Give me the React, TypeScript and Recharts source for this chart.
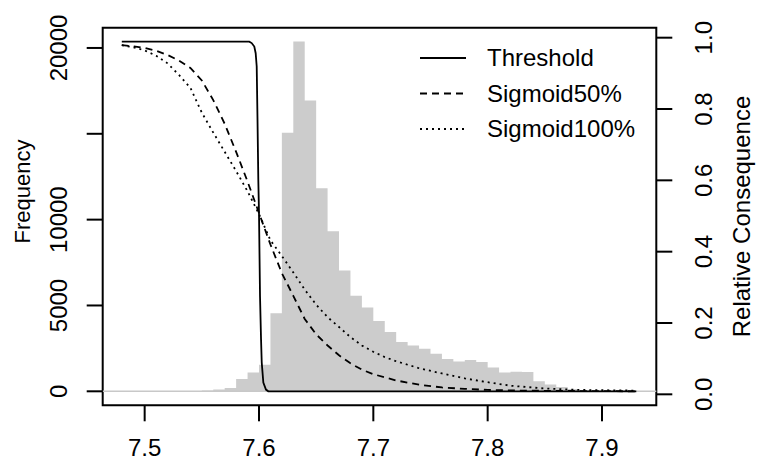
import React from "react"
import {
  Area,
  ComposedChart,
  Legend,
  Line,
  ReferenceArea,
  ReferenceLine,
  XAxis,
  YAxis,
} from "recharts"

const FONT = "'Liberation Sans', Arial, Helvetica, sans-serif"

// histogram: bin edges (width 0.01) and counts per bin
const binEdges = [
  7.53, 7.54, 7.55, 7.56, 7.57, 7.58, 7.59, 7.6, 7.61, 7.62, 7.63, 7.64, 7.65,
  7.66, 7.67, 7.68, 7.69, 7.7, 7.71, 7.72, 7.73, 7.74, 7.75, 7.76, 7.77, 7.78,
  7.79, 7.8, 7.81, 7.82, 7.83, 7.84, 7.85, 7.86, 7.87, 7.88, 7.89, 7.9, 7.91,
]
const binCounts = [
  10, 20, 40, 100, 200, 720, 1100, 1550, 4550, 15060, 20370, 16940, 11830, 9320,
  7030, 5570, 4880, 4100, 3450, 2870, 2670, 2480, 2190, 1880, 1740, 1820, 1710,
  1390, 1100, 1140, 1130, 580, 390, 255, 140, 70, 30, 10,
]

// consequence curves (0..1)
const thresholdX = [
  7.48, 7.5915, 7.5936, 7.5959, 7.5971, 7.598, 7.5987, 7.5994, 7.6, 7.6009,
  7.6018, 7.6024, 7.6038, 7.6061, 7.6081, 7.93,
]
const thresholdY = [
  1.0, 1.0, 0.996, 0.986, 0.967, 0.929, 0.777, 0.605, 0.511, 0.271, 0.148,
  0.082, 0.025, 0.005, 0, 0,
]

const sig50X = [
  7.48, 7.49, 7.5, 7.51, 7.52, 7.53, 7.54, 7.55, 7.56, 7.57, 7.58, 7.59, 7.6,
  7.61, 7.62, 7.63, 7.64, 7.65, 7.66, 7.67, 7.68, 7.69, 7.7, 7.72, 7.74, 7.76,
  7.78, 7.8, 7.83, 7.87, 7.93,
]
const sig50Y = [
  0.99, 0.987, 0.982, 0.974, 0.962, 0.946, 0.925, 0.889, 0.833, 0.765, 0.685,
  0.6, 0.51, 0.42, 0.338, 0.273, 0.207, 0.163, 0.131, 0.103, 0.08, 0.062, 0.049,
  0.031, 0.019, 0.011, 0.007, 0.004, 0.002, 0.001, 0,
]

const sig100X = [
  7.48, 7.49, 7.5, 7.51, 7.52, 7.53, 7.54, 7.55, 7.56, 7.57, 7.58, 7.59, 7.6,
  7.61, 7.62, 7.63, 7.64, 7.65, 7.66, 7.67, 7.68, 7.69, 7.7, 7.71, 7.72, 7.74,
  7.76, 7.78, 7.8, 7.82, 7.85, 7.88, 7.93,
]
const sig100Y = [
  0.99, 0.984, 0.975, 0.96, 0.938, 0.905, 0.868, 0.797, 0.74, 0.685, 0.63,
  0.572, 0.507, 0.432, 0.387, 0.34, 0.291, 0.248, 0.212, 0.184, 0.155, 0.131,
  0.113, 0.098, 0.086, 0.066, 0.051, 0.037, 0.026, 0.016, 0.008, 0.004, 0.002,
]

const legendOrder = ["Threshold", "Sigmoid50%", "Sigmoid100%"]

const xTicks = [7.5, 7.6, 7.7, 7.8, 7.9]
const freqTicks = [0, 5000, 10000, 15000, 20000]
const freqTickLabels = ["0", "5000", "10000", "", "20000"]
const relTicks = [0, 0.2, 0.4, 0.6, 0.8, 1]
const relTickLabels = ["0.0", "0.2", "0.4", "0.6", "0.8", "1.0"]

const X_DOMAIN: [number, number] = [7.4633, 7.9475]
const FREQ_DOMAIN: [number, number] = [-815, 21180]
const LINE_DOMAIN: [number, number] = [-0.04, 1.04]
const REL_DOMAIN: [number, number] = [-0.0308, 1.028]

type Row = { x: number; hist?: number; thr?: number; s50?: number; s100?: number }

function buildRows(): Row[] {
  const rows = new Map<string, Row>()
  const put = (x: number, key: "hist" | "thr" | "s50" | "s100", v: number) => {
    const k = x.toFixed(5)
    const r = rows.get(k) ?? { x }
    r[key] = v
    rows.set(k, r)
  }
  binEdges.forEach((e, i) => put(e, "hist", i < binCounts.length ? binCounts[i] : 0))
  thresholdX.forEach((x, i) => put(x, "thr", thresholdY[i]))
  sig50X.forEach((x, i) => put(x, "s50", sig50Y[i]))
  sig100X.forEach((x, i) => put(x, "s100", sig100Y[i]))
  return [...rows.values()].sort((a, b) => a.x - b.x)
}

const data = buildRows()

function XTick({ x, y, payload }: any) {
  return (
    <text x={x} y={y} dy="0.71em" textAnchor="middle" fontSize={24} fontFamily={FONT} fill="#000">
      {Number(payload.value).toFixed(1)}
    </text>
  )
}

function FreqTick({ x, y, payload }: any) {
  const label = freqTickLabels[freqTicks.indexOf(payload.value)]
  if (!label) return null
  return (
    <text x={x} y={y} transform={`rotate(-90 ${x} ${y})`} textAnchor="middle" fontSize={24} fontFamily={FONT} fill="#000">
      {label}
    </text>
  )
}

function RelTick({ x, y, payload }: any) {
  const label = relTickLabels[relTicks.indexOf(payload.value)]
  return (
    <text x={x} y={y} dy="0.72em" transform={`rotate(-90 ${x} ${y})`} textAnchor="middle" fontSize={24} fontFamily={FONT} fill="#000">
      {label}
    </text>
  )
}

function ChartLegend({ payload }: any) {
  const items = (payload || [])
    .filter((p: any) => legendOrder.includes(p.value))
    .sort((a: any, b: any) => legendOrder.indexOf(a.value) - legendOrder.indexOf(b.value))
  return (
    <svg width={260} height={120} style={{ display: "block", overflow: "visible" }}>
      {items.map((it: any, i: number) => (
        <g key={it.value} transform={`translate(0, ${i * 35.5})`}>
          <line
            x1={0}
            x2={46}
            y1={18}
            y2={18}
            stroke="#000"
            strokeWidth={1.8}
            strokeDasharray={it.payload?.strokeDasharray}
          />
          <text x={67} y={18} dy="0.35em" fontSize={24} fontFamily={FONT} fill="#000">
            {it.value}
          </text>
        </g>
      ))}
    </svg>
  )
}

export default function App() {
  return (
    <div style={{ position: "absolute", left: 0, top: 0, background: "#fff" }}>
      <ComposedChart
        width={757}
        height={462}
        data={data}
        margin={{ top: 27.7, right: 0, bottom: 0, left: 0 }}
      >
        <XAxis
          dataKey="x"
          type="number"
          domain={X_DOMAIN}
          allowDataOverflow
          ticks={xTicks}
          interval={0}
          height={56.7}
          tickSize={16}
          tickMargin={18}
          axisLine={false}
          tickLine={{ stroke: "#000", strokeWidth: 2 }}
          tick={<XTick />}
        />
        <YAxis
          yAxisId="freq"
          type="number"
          domain={FREQ_DOMAIN}
          allowDataOverflow
          ticks={freqTicks}
          interval={0}
          width={102.7}
          tickSize={16}
          tickMargin={20}
          axisLine={false}
          tickLine={{ stroke: "#000", strokeWidth: 2 }}
          tick={<FreqTick />}
          label={(p: any) => {
            const vb = p.viewBox || { x: 0, y: 27.7, width: 102.7, height: 377.6 }
            const cx = vb.x + 30
            const cy = vb.y + vb.height / 2 - 25
            return (
              <text x={cx} y={cy} transform={`rotate(-90 ${cx} ${cy})`} textAnchor="middle" fontSize={22} fontFamily={FONT} fill="#000">
                Frequency
              </text>
            )
          }}
        />
        <YAxis
          yAxisId="rel"
          orientation="right"
          type="number"
          domain={REL_DOMAIN}
          allowDataOverflow
          ticks={relTicks}
          interval={0}
          width={100.7}
          tickSize={16}
          tickMargin={22}
          axisLine={false}
          tickLine={{ stroke: "#000", strokeWidth: 2 }}
          tick={<RelTick />}
          label={(p: any) => {
            const vb = p.viewBox || { x: 656.3, y: 27.7, width: 100.7, height: 377.6 }
            const cx = vb.x + 94
            const cy = vb.y + vb.height / 2
            return (
              <text x={cx} y={cy} transform={`rotate(-90 ${cx} ${cy})`} textAnchor="middle" fontSize={24} fontFamily={FONT} fill="#000">
                Relative Consequence
              </text>
            )
          }}
        />
        <YAxis yAxisId="line" hide type="number" domain={LINE_DOMAIN} allowDataOverflow />

        <ReferenceLine yAxisId="freq" y={0} stroke="#c8c8c8" strokeWidth={1.5} />
        <Area
          yAxisId="freq"
          dataKey="hist"
          type="stepAfter"
          fill="#cccccc"
          fillOpacity={1}
          stroke="none"
          baseValue={0}
          connectNulls
          legendType="none"
          isAnimationActive={false}
        />
        <Line
          yAxisId="line"
          dataKey="thr"
          name="Threshold"
          stroke="#000"
          strokeWidth={1.8}
          dot={false}
          connectNulls
          isAnimationActive={false}
        />
        <Line
          yAxisId="line"
          dataKey="s50"
          name="Sigmoid50%"
          stroke="#000"
          strokeWidth={1.8}
          strokeDasharray="7 5"
          dot={false}
          connectNulls
          isAnimationActive={false}
        />
        <Line
          yAxisId="line"
          dataKey="s100"
          name="Sigmoid100%"
          stroke="#000"
          strokeWidth={1.8}
          strokeDasharray="2 4"
          dot={false}
          connectNulls
          isAnimationActive={false}
        />
        <ReferenceArea
          yAxisId="freq"
          x1={X_DOMAIN[0]}
          x2={X_DOMAIN[1]}
          y1={FREQ_DOMAIN[0]}
          y2={FREQ_DOMAIN[1]}
          fill="none"
          stroke="#000"
          strokeWidth={2}
          ifOverflow="visible"
        />
        <Legend
          layout="vertical"
          align="center"
          verticalAlign="middle"
          content={<ChartLegend />}
          wrapperStyle={{ left: 420, top: 40, width: 260, height: 120 }}
        />
      </ComposedChart>
    </div>
  )
}
